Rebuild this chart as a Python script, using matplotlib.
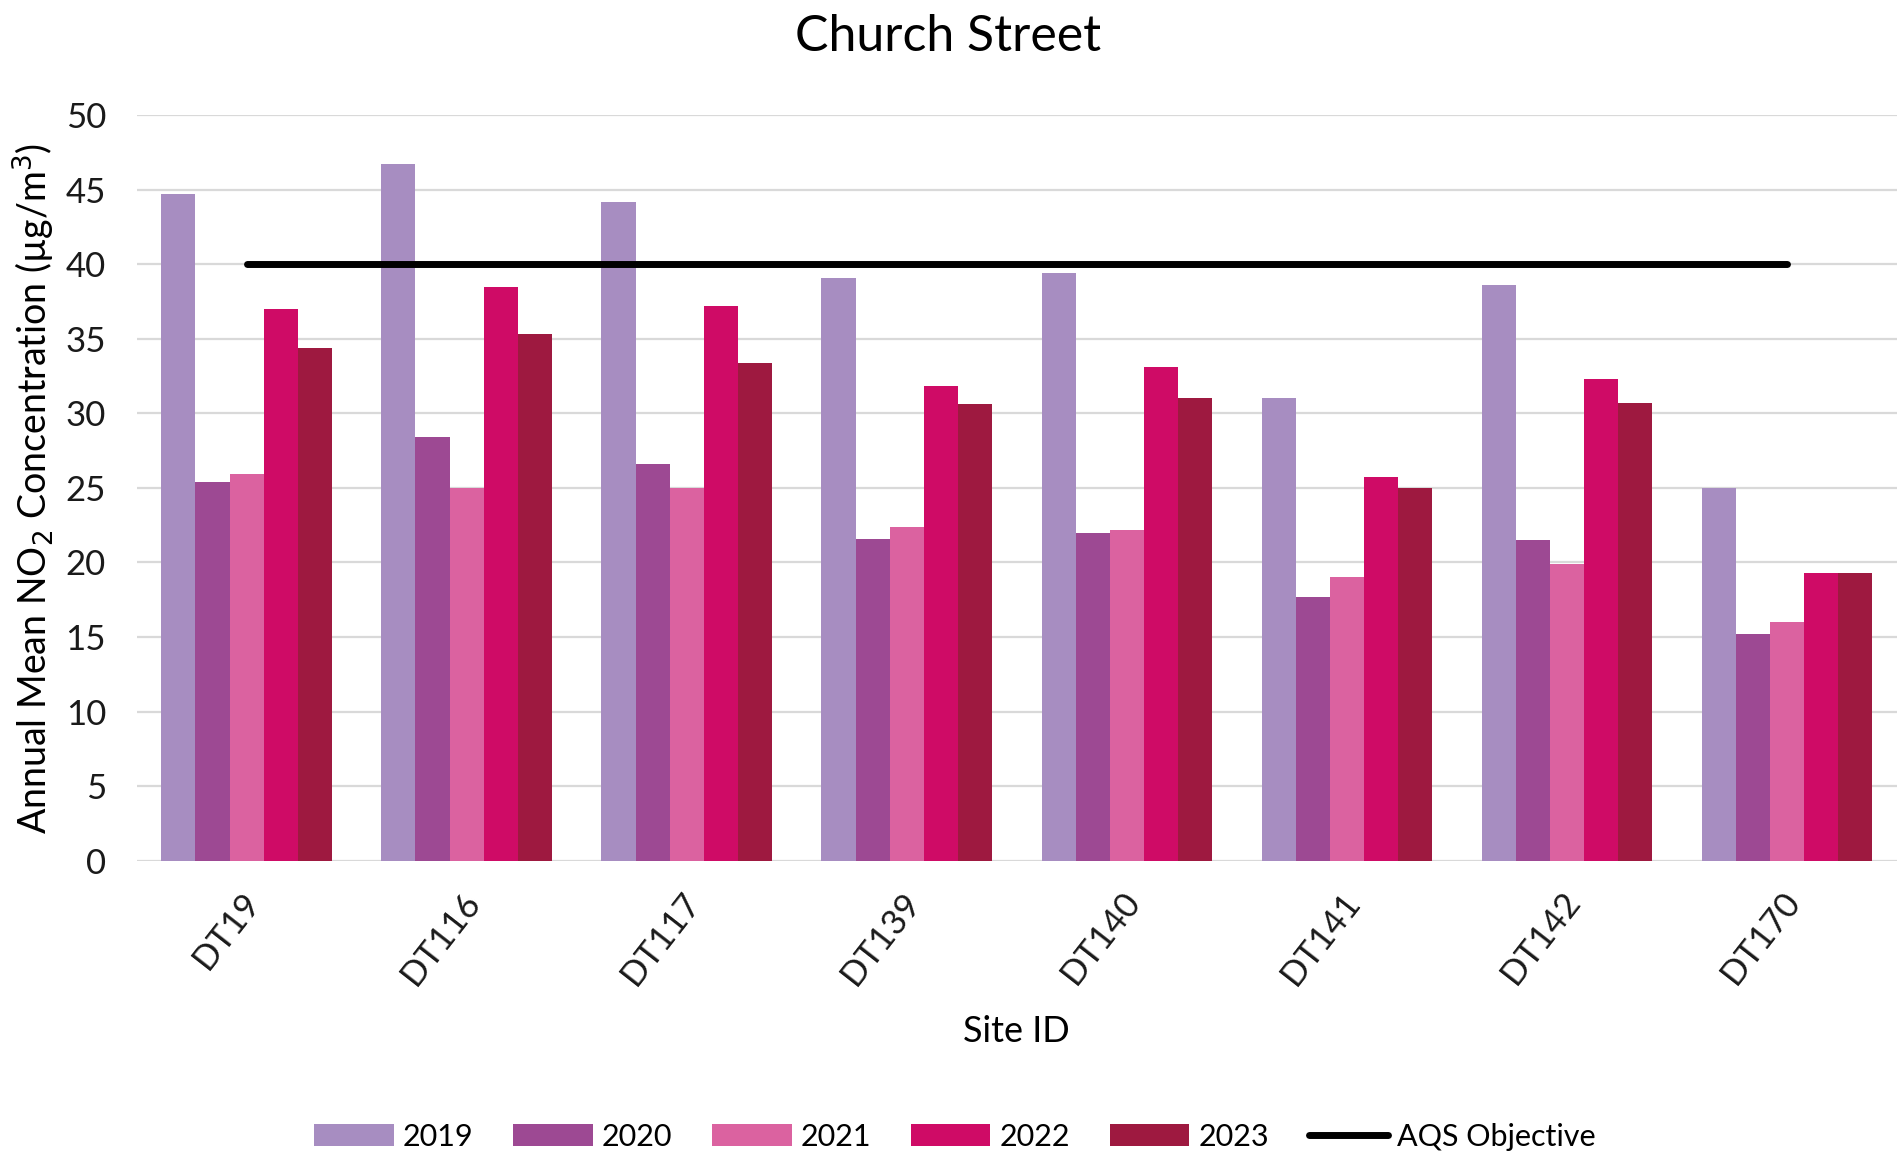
# Church Street annual mean NO2 bar chart
import numpy as np
import matplotlib
matplotlib.use('Agg')
import matplotlib.pyplot as plt
import matplotlib.transforms as mtransforms

plt.rcParams['font.family'] = ['Lato', 'DejaVu Sans']

# data
sites = ['DT19', 'DT116', 'DT117', 'DT139', 'DT140', 'DT141', 'DT142', 'DT170']
years = ['2019', '2020', '2021', '2022', '2023']
v2019 = [44.7, 46.7, 44.2, 39.1, 39.4, 31.0, 38.6, 25.0]
v2020 = [25.4, 28.4, 26.6, 21.6, 22.0, 17.7, 21.5, 15.2]
v2021 = [25.9, 25.0, 25.0, 22.4, 22.2, 19.0, 19.9, 16.0]
v2022 = [37.0, 38.5, 37.2, 31.8, 33.1, 25.7, 32.3, 19.3]
v2023 = [34.4, 35.3, 33.4, 30.6, 31.0, 25.0, 30.7, 19.3]
aqs_objective = 40
colors = ['#a78dc1', '#9d4993', '#db62a0', '#cf0b66', '#9e1940']

series = [v2019, v2020, v2021, v2022, v2023]

fig = plt.figure(figsize=(18.97, 11.57), dpi=100)
ax = fig.add_axes([0.072, 0.256, 0.928, 0.6446])

x = np.arange(len(sites))
w = 0.155
handles = []
for i, vals in enumerate(series):
    b = ax.bar(x + (i - 2) * w, vals, width=w, color=colors[i], label=years[i], zorder=2)
    handles.append(b)

ln, = ax.plot([x[0], x[-1]], [aqs_objective, aqs_objective], color='black', lw=5,
              solid_capstyle='round', label='AQS Objective', zorder=3)
handles.append(ln)

ax.set_xlim(-0.5, len(sites) - 0.5)
ax.set_ylim(0, 50)
ax.set_yticks(np.arange(0, 51, 5))
ax.yaxis.grid(True, color='#d9d9d9', lw=1.6, zorder=0)
ax.set_axisbelow(True)
for s in ax.spines.values():
    s.set_visible(False)
ax.tick_params(axis='both', length=0, labelsize=25, colors='#1a1a1a')
ax.tick_params(axis='y', pad=22)
ax.tick_params(axis='x', pad=18)

ax.set_xticks(x)
ax.set_xticklabels(sites, rotation=52, ha='right')
offset = mtransforms.ScaledTranslation(20 / 100, 0, fig.dpi_scale_trans)
for lab in ax.get_xticklabels():
    lab.set_transform(lab.get_transform() + offset)

ax.set_ylabel('Annual Mean NO$_2$ Concentration (µg/m$^3$)', fontsize=27, labelpad=6)
ax.set_xlabel('Site ID', fontsize=26, labelpad=18)
fig.suptitle('Church Street', fontsize=36, x=0.5, y=0.988, va='top')

ax.legend(handles=handles, loc='center', bbox_to_anchor=(0.465, -0.37), ncol=6,
          frameon=False, fontsize=22, handlelength=2.6, handleheight=0.7,
          handletextpad=0.3, columnspacing=1.3)

fig.savefig('out.png', dpi=100)
